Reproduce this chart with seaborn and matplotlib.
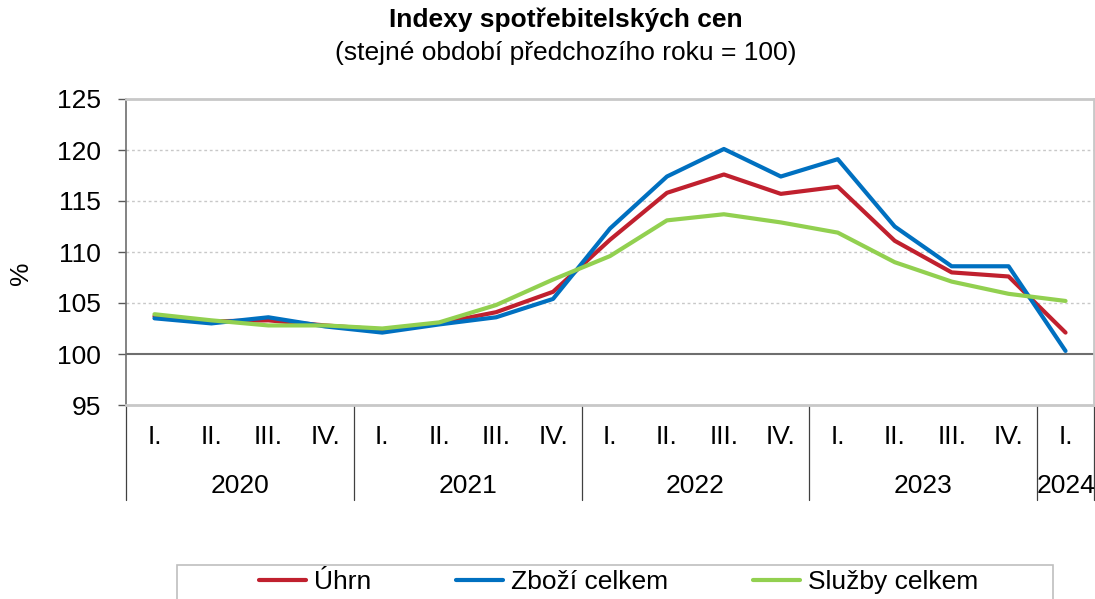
import numpy as np
import pandas as pd
import matplotlib
matplotlib.use('Agg')
import matplotlib.pyplot as plt
import matplotlib.transforms as mtransforms
from matplotlib.patches import Rectangle
import seaborn as sns

# Data
quarters = ['I.', 'II.', 'III.', 'IV.'] * 4 + ['I.']
years = ['2020', '2021', '2022', '2023', '2024']
year_counts = [4, 4, 4, 4, 1]

uhrn = [103.7, 103.2, 103.3, 102.8, 102.4, 103.0, 104.1, 106.1, 111.2, 115.8, 117.6, 115.7, 116.4, 111.1, 108.0, 107.6, 102.1]
zbozi = [103.5, 103.0, 103.6, 102.7, 102.1, 102.9, 103.6, 105.4, 112.3, 117.4, 120.1, 117.4, 119.1, 112.5, 108.6, 108.6, 100.3]
sluzby = [103.9, 103.3, 102.8, 102.8, 102.5, 103.1, 104.8, 107.3, 109.6, 113.1, 113.7, 112.9, 111.9, 109.0, 107.1, 105.9, 105.2]

series_names = ['Úhrn', 'Zboží celkem', 'Služby celkem']
colors = ['#C0202E', '#0070C0', '#92D050']

sns.set_style('white')
plt.rcParams['font.family'] = ['Liberation Sans', 'DejaVu Sans']
plt.rcParams['text.color'] = 'black'

FS = 19

n = len(quarters)
idx = np.arange(n)
df = pd.DataFrame({
    'idx': np.tile(idx, 3),
    'value': uhrn + zbozi + sluzby,
    'series': np.repeat(series_names, n),
})

fig = plt.figure(figsize=(10.95, 5.99), dpi=100)
ax = fig.add_axes([126 / 1095, 1 - 405 / 599, 968 / 1095, 306 / 599])

sns.lineplot(data=df, x='idx', y='value', hue='series', hue_order=series_names,
             palette=colors, linewidth=3, legend=False, ax=ax, zorder=3)

ax.set_xlim(-0.5, n - 0.5)
ax.set_ylim(95, 125)
ax.set_yticks(np.arange(95, 126, 5))
ax.tick_params(axis='y', labelsize=FS, direction='out', length=6, width=1, color='#595959',
               left=True, pad=12, labelcolor='black')
ax.set_xticks([])
ax.set_xlabel('')
ax.set_ylabel('')
fig.text(21 / 1095, 1 - 273 / 599, '%', rotation=90, ha='center', va='center', fontsize=FS)

for y in range(105, 125, 5):
    ax.axhline(y, color='#C8C8C8', linestyle=(0, (2, 2)), linewidth=1, zorder=1)
ax.axhline(100, color='#6E6E6E', linewidth=1.5, zorder=2)

for side in ['top', 'right', 'bottom']:
    ax.spines[side].set_color('#C8C8C8')
    ax.spines[side].set_linewidth(2)
ax.spines['left'].set_color('#6E6E6E')
ax.spines['left'].set_linewidth(1.2)

# category axis: quarters and years
trans = mtransforms.blended_transform_factory(ax.transData, ax.transAxes)
for i, q in enumerate(quarters):
    ax.text(i, -0.105, q, transform=trans, ha='center', va='center', fontsize=FS)

start = 0
bounds = [-0.5]
for yr, cnt in zip(years, year_counts):
    mid = start + (cnt - 1) / 2
    ax.text(mid, -0.265, yr, transform=trans, ha='center', va='center', fontsize=FS)
    start += cnt
    bounds.append(start - 0.5)
for b in bounds:
    ax.plot([b, b], [0, -0.31], transform=trans, color='#404040', linewidth=0.9, clip_on=False)

fig.text(0.517, 1 - 20 / 599, 'Indexy spotřebitelských cen', ha='center', va='center',
         fontsize=FS, fontweight='bold')
fig.text(0.517, 1 - 53 / 599, '(stejné období předchozího roku = 100)', ha='center', va='center',
         fontsize=FS)

# legend with box cut at the bottom edge
fig.patches.append(Rectangle((177 / 1095, -0.05), 876 / 1095, (599 - 565) / 599 + 0.05,
                             transform=fig.transFigure, fill=False, edgecolor='#BFBFBF', linewidth=1.2))
handles = ax.lines[:3]
fig.legend(handles, series_names, loc='center', bbox_to_anchor=(0.565, 1 - 582 / 599), ncol=3,
           frameon=False, fontsize=FS, handlelength=1.8, handletextpad=0.3, columnspacing=3.2)

fig.savefig('out.png', dpi=100)
